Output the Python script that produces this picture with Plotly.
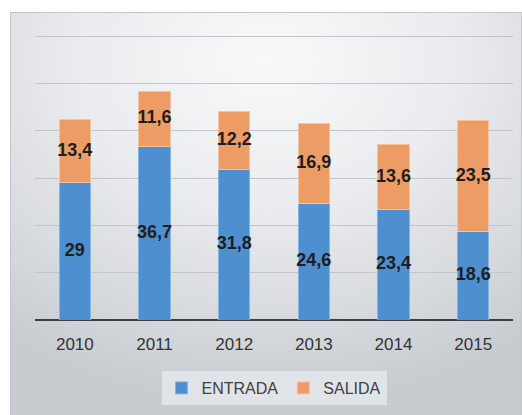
import base64
import plotly.graph_objects as go

years = ["2010", "2011", "2012", "2013", "2014", "2015"]
entrada = [29, 36.7, 31.8, 24.6, 23.4, 18.6]
salida = [13.4, 11.6, 12.2, 16.9, 13.6, 23.5]
series_names = ["ENTRADA", "SALIDA"]

BLUE = "#4E8FD0"
ORANGE = "#EE9C66"


def fmt(v):
    s = ("%.1f" % v).rstrip("0").rstrip(".")
    return s.replace(".", ",")


svg = """<svg xmlns='http://www.w3.org/2000/svg' width='512' height='403' viewBox='0 0 512 403' preserveAspectRatio='none'>
<defs><radialGradient id='g' cx='50%' cy='12%' r='85%' fx='50%' fy='12%'>
<stop offset='0' stop-color='#f8f9f9'/>
<stop offset='0.45' stop-color='#e9ebee'/>
<stop offset='1' stop-color='#c8ccd1'/>
</radialGradient></defs>
<rect x='0' y='0' width='512' height='403' fill='url(#g)'/>
<rect x='0.5' y='0.5' width='511' height='410' fill='none' stroke='#c3c7cc' stroke-width='1'/>
</svg>"""
bg_src = "data:image/svg+xml;base64," + base64.b64encode(svg.encode()).decode()

fig = go.Figure()
fig.add_trace(go.Bar(x=years, y=entrada, name=series_names[0],
                     marker=dict(color=BLUE, line=dict(color="#86b4e2", width=1))))
fig.add_trace(go.Bar(x=years, y=salida, name=series_names[1],
                     marker=dict(color=ORANGE, line=dict(color="#f6c39f", width=1))))

label_font = dict(family="Liberation Sans, Arial", size=18, color="#1e1e1e", weight="bold")
fig.add_trace(go.Scatter(x=years, y=[e / 2 for e in entrada], mode="text",
                         text=[fmt(v) for v in entrada], textfont=label_font,
                         showlegend=False, hoverinfo="skip"))
fig.add_trace(go.Scatter(x=years, y=[e + s / 2 for e, s in zip(entrada, salida)], mode="text",
                         text=[fmt(v) for v in salida], textfont=label_font,
                         showlegend=False, hoverinfo="skip"))

T, B = 33, 95
H = 415 - T - B  # plot height in px
PX_PER_UNIT = (320 - 36) / 60.0
YMAX = (320 - T) / PX_PER_UNIT

fig.update_layout(
    width=522, height=415,
    barmode="stack", bargap=0.61,
    margin=dict(l=35, r=9, t=T, b=B),
    paper_bgcolor="white", plot_bgcolor="rgba(0,0,0,0)",
    font=dict(family="Liberation Sans, Arial", color="#404040"),
    xaxis=dict(type="category", showgrid=False, showline=False, ticks="",
               ticklabelstandoff=12,
               tickfont=dict(size=17, color="#333333"), fixedrange=True),
    yaxis=dict(range=[0, YMAX], dtick=10, showgrid=True, gridcolor="#c2c5ca", gridwidth=1,
               showticklabels=False, zeroline=True, zerolinecolor="#3f3f3f",
               zerolinewidth=2, fixedrange=True),
    legend=dict(orientation="h", x=0.5, xanchor="center", y=(320 - 371) / H, yanchor="top",
                bgcolor="#e0e3e7", font=dict(size=16, color="#404040"),
                traceorder="normal"),
    images=[dict(source=bg_src, xref="paper", yref="paper",
                 x=(10 - 35) / 478, y=(320 - 12) / H,
                 sizex=(522 - 10) / 478, sizey=(415 - 12) / H,
                 sizing="stretch", layer="below", xanchor="left", yanchor="top")],
    showlegend=True,
)

fig.write_html("out.html", config={"displayModeBar": False},
               post_script="document.body.style.margin='0';document.body.style.padding='0';")
